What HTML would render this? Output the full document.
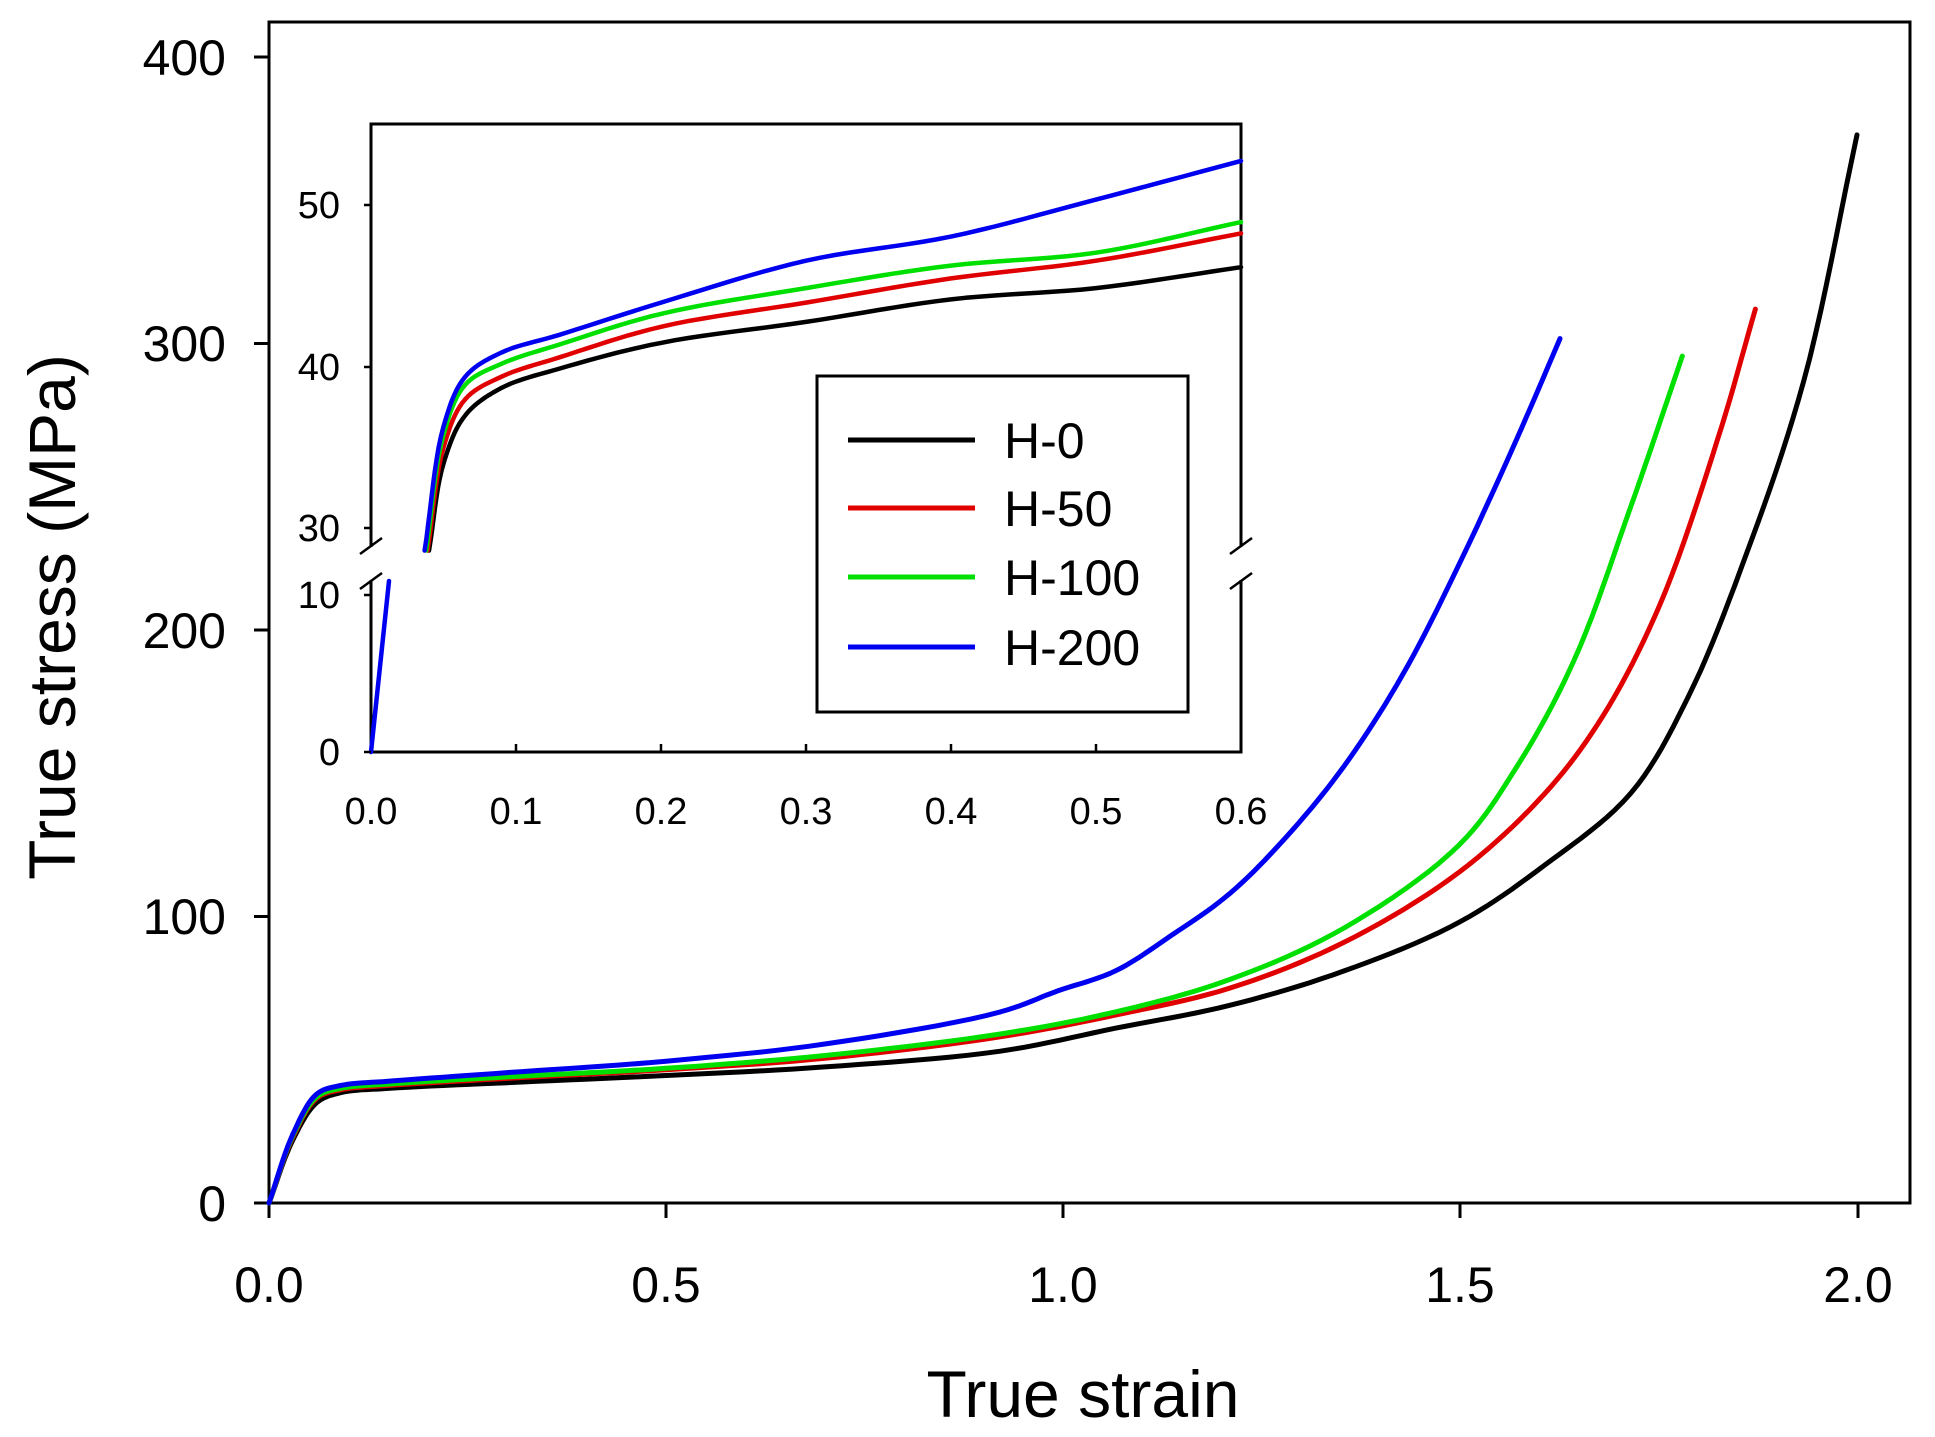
<!DOCTYPE html>
<html><head><meta charset="utf-8"><style>
html,body{margin:0;padding:0;background:#fff}
svg{display:block}
text{font-family:"Liberation Sans",Arial,sans-serif;fill:#000}
</style></head><body>
<svg id="s" width="1935" height="1437" viewBox="0 0 1935 1437" xmlns="http://www.w3.org/2000/svg">
<rect x="0" y="0" width="1935" height="1437" fill="#fff"/>
<rect x="269" y="22" width="1641" height="1181" fill="none" stroke="#000" stroke-width="3"/>
<g stroke="#000" stroke-width="3">
<line x1="254" y1="57" x2="269" y2="57"/><line x1="254" y1="343.5" x2="269" y2="343.5"/>
<line x1="254" y1="630" x2="269" y2="630"/><line x1="254" y1="916.5" x2="269" y2="916.5"/>
<line x1="254" y1="1203" x2="269" y2="1203"/>
<line x1="269" y1="1203" x2="269" y2="1218"/><line x1="666" y1="1203" x2="666" y2="1218"/>
<line x1="1063" y1="1203" x2="1063" y2="1218"/><line x1="1460" y1="1203" x2="1460" y2="1218"/>
<line x1="1858" y1="1203" x2="1858" y2="1218"/>
</g>
<g font-size="50" text-anchor="end">
<text x="226" y="75">400</text><text x="226" y="361">300</text><text x="226" y="648">200</text>
<text x="226" y="934">100</text><text x="226" y="1221">0</text>
</g>
<g font-size="50" text-anchor="middle">
<text x="269" y="1302">0.0</text><text x="666" y="1302">0.5</text><text x="1063" y="1302">1.0</text>
<text x="1460" y="1302">1.5</text><text x="1858" y="1302">2.0</text>
</g>
<text x="1083" y="1417" font-size="66" text-anchor="middle">True strain</text>
<text transform="translate(75,617) rotate(-90)" font-size="66" text-anchor="middle">True stress (MPa)</text>
<g id="main" fill="none" stroke-width="5" stroke-linejoin="round" stroke-linecap="round"></g>
<rect x="371" y="124" width="870" height="628" fill="#fff" stroke="#000" stroke-width="3"/>
<g id="ins" fill="none" stroke-width="4.5" stroke-linejoin="round" stroke-linecap="round"></g>
<rect x="356" y="547" width="30" height="33" fill="#fff"/>
<rect x="1226" y="547" width="30" height="33" fill="#fff"/>
<g stroke="#000" stroke-width="2.5">
<line x1="360" y1="554" x2="382" y2="538"/><line x1="360" y1="589" x2="382" y2="573"/>
<line x1="1230" y1="554" x2="1252" y2="538"/><line x1="1230" y1="589" x2="1252" y2="573"/>
<line x1="364" y1="205" x2="371" y2="205"/><line x1="364" y1="367" x2="371" y2="367"/>
<line x1="364" y1="528" x2="371" y2="528"/><line x1="364" y1="595" x2="371" y2="595"/>
<line x1="364" y1="752" x2="371" y2="752"/>
<line x1="516" y1="752" x2="516" y2="744"/><line x1="661" y1="752" x2="661" y2="744"/>
<line x1="806" y1="752" x2="806" y2="744"/><line x1="951" y1="752" x2="951" y2="744"/>
<line x1="1096" y1="752" x2="1096" y2="744"/>
</g>
<g font-size="38" text-anchor="end">
<text x="340" y="218">50</text><text x="340" y="380">40</text><text x="340" y="541">30</text>
<text x="340" y="608">10</text><text x="340" y="765">0</text>
</g>
<g font-size="38" text-anchor="middle">
<text x="371" y="824">0.0</text><text x="516" y="824">0.1</text><text x="661" y="824">0.2</text>
<text x="806" y="824">0.3</text><text x="951" y="824">0.4</text><text x="1096" y="824">0.5</text>
<text x="1241" y="824">0.6</text>
</g>
<rect x="817" y="376" width="371" height="336" fill="#fff" stroke="#000" stroke-width="3"/>
<g stroke-width="5">
<line x1="848" y1="440" x2="975" y2="440" stroke="#000"/>
<line x1="848" y1="508" x2="975" y2="508" stroke="#e00000"/>
<line x1="848" y1="577" x2="975" y2="577" stroke="#00e000"/>
<line x1="848" y1="647" x2="975" y2="647" stroke="#0000f0"/>
</g>
<g font-size="50">
<text x="1004" y="458">H-0</text><text x="1004" y="526">H-50</text>
<text x="1004" y="595">H-100</text><text x="1004" y="665">H-200</text>
</g>
</svg>
<script>
// centripetal catmull-rom in pixel space
function cr(P,n){var o=[P[0]];
function d(a,b){return Math.pow(Math.hypot(b[0]-a[0],b[1]-a[1])||1e-6,0.5)}
for(var i=0;i<P.length-1;i++){
var p0=i>0?P[i-1]:[2*P[0][0]-P[1][0],2*P[0][1]-P[1][1]],p1=P[i],p2=P[i+1],
p3=i+2<P.length?P[i+2]:[2*P[i+1][0]-P[i][0],2*P[i+1][1]-P[i][1]];
var t0=0,t1=t0+d(p0,p1),t2=t1+d(p1,p2),t3=t2+d(p2,p3);
for(var k=1;k<=n;k++){var t=t1+(t2-t1)*k/n,r=[];
for(var c=0;c<2;c++){
var A1=(t1-t)/(t1-t0)*p0[c]+(t-t0)/(t1-t0)*p1[c],
A2=(t2-t)/(t2-t1)*p1[c]+(t-t1)/(t2-t1)*p2[c],
A3=(t3-t)/(t3-t2)*p2[c]+(t-t2)/(t3-t2)*p3[c],
B1=(t2-t)/(t2-t0)*A1+(t-t0)/(t2-t0)*A2,
B2=(t3-t)/(t3-t1)*A2+(t-t1)/(t3-t1)*A3;
r.push((t2-t)/(t2-t1)*B1+(t-t1)/(t2-t1)*B2);}
o.push(r);}}return o;}
var NS="http://www.w3.org/2000/svg";
function add(g,pts,col,fx,fy){var px=pts.map(function(p){return [fx(p[0]),fy(p[1])]});
var q=cr(px,10).map(function(p){return p[0].toFixed(1)+","+p[1].toFixed(1)}).join(" ");
var e=document.createElementNS(NS,"polyline");e.setAttribute("points",q);e.setAttribute("stroke",col);document.getElementById(g).appendChild(e);}
var mx=function(x){return 269+x*794},my=function(y){return 1203-y*2.865};
var M={
"#000":[[0,0],[0.03,22],[0.06,35],[0.09,38.5],[0.15,40],[0.3,42],[0.5,44.5],[0.7,47.5],[0.921,53],[1.066,61],[1.21,69],[1.354,81],[1.499,98],[1.607,118],[1.715,143],[1.788,177],[1.86,226],[1.933,287],[2.0,372.8]],
"#e00000":[[0,0],[0.03,23],[0.06,36.5],[0.09,39.5],[0.15,41],[0.3,43.5],[0.5,46.5],[0.7,50.5],[0.921,58],[1.066,65.6],[1.21,75],[1.354,91],[1.499,115.5],[1.607,143],[1.68,170],[1.752,209],[1.825,267],[1.872,312]],
"#00e000":[[0,0],[0.03,23.5],[0.06,37],[0.09,40],[0.15,41.5],[0.3,44],[0.5,47],[0.7,51.5],[0.921,59],[1.066,66.7],[1.21,78],[1.354,96],[1.499,125],[1.572,152.5],[1.643,189],[1.715,243],[1.78,295.6]],
"#0000f0":[[0,0],[0.03,24],[0.06,38],[0.09,41],[0.15,42.5],[0.3,45.5],[0.5,49.5],[0.7,55.5],[0.921,66.7],[0.993,74],[1.066,81],[1.137,93.5],[1.21,108],[1.282,128],[1.354,152.5],[1.427,184],[1.499,223],[1.572,267],[1.626,301.7]]};
for(var c in M)add("main",M[c],c,mx,my);
var ix=function(x){return 371+x*1450},iy=function(v){return 528-(v-30)*16.1};
var I={
"#000":[[0.04,28.6],[0.05,34.0],[0.065,37.0],[0.09,38.7],[0.13,39.9],[0.2,41.5],[0.3,42.8],[0.4,44.2],[0.5,44.9],[0.6,46.2]],
"#e00000":[[0.039,28.6],[0.05,35.0],[0.065,38.0],[0.09,39.4],[0.13,40.6],[0.2,42.5],[0.3,44.0],[0.4,45.5],[0.5,46.6],[0.6,48.3]],
"#00e000":[[0.038,28.6],[0.05,35.8],[0.065,38.9],[0.09,40.2],[0.13,41.4],[0.2,43.3],[0.3,44.9],[0.4,46.3],[0.5,47.1],[0.6,49.0]],
"#0000f0":[[0.037,28.6],[0.05,36.3],[0.065,39.4],[0.09,40.9],[0.13,42.0],[0.2,44.0],[0.3,46.6],[0.4,48.1],[0.5,50.4],[0.6,52.8]]};
for(var c in I)add("ins",I[c],c,ix,iy);
var e=document.createElementNS(NS,"line");e.setAttribute("x1",371);e.setAttribute("y1",752);e.setAttribute("x2",389);e.setAttribute("y2",581);e.setAttribute("stroke","#0000f0");document.getElementById("ins").appendChild(e);
</script>
</body></html>
